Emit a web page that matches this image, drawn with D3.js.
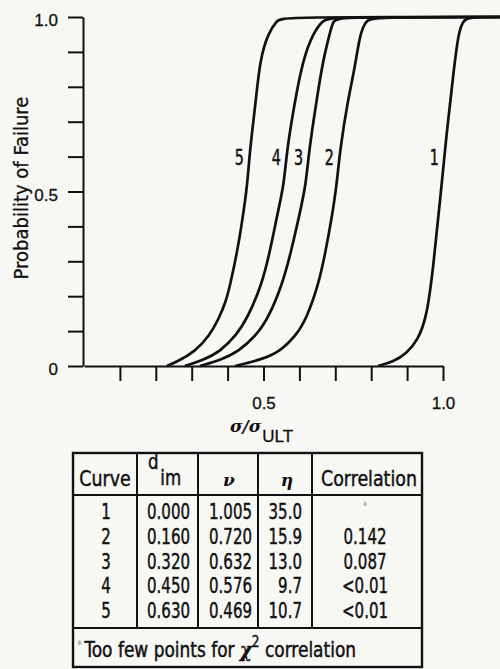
<!DOCTYPE html>
<html>
<head>
<meta charset="utf-8">
<script src="https://d3js.org/d3.v7.min.js"></script>
<style>
  body { margin: 0; background: #f7f7f4; }
  svg { display: block; }
  .axis path, .axis line { stroke: #111; stroke-width: 2; fill: none; }
  .axis text { font-family: "Liberation Sans", Arial, sans-serif; font-size: 17px; fill: #111; stroke: #111; stroke-width: 0.3; }
  .narrow { font-family: "DejaVu Sans Condensed", sans-serif; fill: #111; stroke: #111; stroke-width: 0.45; }
  .grid line, .grid rect { stroke: #111; fill: none; }
</style>
</head>
<body>
<svg id="chart" width="500" height="669"></svg>
<script>
// curves: x = sigma/sigma_ULT, p = probability of failure
var curveNames = ["1", "2", "3", "4", "5"];
var curve1X = [0.819, 0.862, 0.899, 0.930, 0.955, 0.973, 0.992, 1.010, 1.031, 1.043, 1.056, 1.070, 1.159];
var curve1P = [0, 0.012, 0.037, 0.074, 0.141, 0.284, 0.476, 0.668, 0.857, 0.954, 0.989, 1, 1];
var curve2X = [0.421, 0.490, 0.546, 0.592, 0.620, 0.653, 0.673, 0.690, 0.704, 0.713, 0.735, 0.755, 0.769, 0.786, 0.802, 1.159];
var curve2P = [0, 0.017, 0.041, 0.089, 0.137, 0.232, 0.328, 0.424, 0.519, 0.619, 0.762, 0.857, 0.954, 0.989, 1, 1];
var curve3X = [0.323, 0.379, 0.430, 0.481, 0.513, 0.552, 0.577, 0.602, 0.618, 0.627, 0.648, 0.666, 0.685, 0.694, 0.713, 1.159];
var curve3P = [0, 0.017, 0.041, 0.089, 0.137, 0.232, 0.328, 0.442, 0.519, 0.619, 0.762, 0.877, 0.954, 0.991, 1, 1];
var curve4X = [0.281, 0.331, 0.379, 0.425, 0.455, 0.495, 0.518, 0.540, 0.557, 0.565, 0.588, 0.610, 0.638, 0.666, 0.685, 1.159];
var curve4P = [0, 0.017, 0.041, 0.089, 0.137, 0.232, 0.328, 0.442, 0.519, 0.619, 0.762, 0.877, 0.954, 0.991, 1, 1];
var curve5X = [0.231, 0.259, 0.309, 0.351, 0.376, 0.395, 0.407, 0.427, 0.442, 0.455, 0.462, 0.479, 0.490, 0.513, 0.538, 0.552, 1.159];
var curve5P = [0, 0.012, 0.041, 0.089, 0.137, 0.184, 0.232, 0.328, 0.424, 0.519, 0.619, 0.762, 0.877, 0.954, 0.991, 1, 1];

var xTicks = [0.1, 0.2, 0.3, 0.4, 0.5, 0.6, 0.7, 0.8, 0.9, 1.0];
var xLabelVals = [0.5, 1.0];
var xLabelText = ["0.5", "1.0"];
var yTicks = [0, 0.1, 0.2, 0.3, 0.4, 0.5, 0.6, 0.7, 0.8, 0.9, 1.0];
var yLabelVals = [0, 0.5, 1.0];
var yLabelText = ["0", "0.5", "1.0"];

// table under the plot
var tableHead = ["Curve", "d", "\u03BD", "\u03B7", "Correlation"];
var tableCurve = ["1", "2", "3", "4", "5"];
var tableDim = ["0.000", "0.160", "0.320", "0.450", "0.630"];
var tableNu = ["1.005", "0.720", "0.632", "0.576", "0.469"];
var tableEta = ["35.0", "15.9", "13.0", "9.7", "10.7"];
var tableCorr = ["*", "0.142", "0.087", "<0.01", "<0.01"];

var svg = d3.select("#chart");
var x = d3.scaleLinear().domain([0, 1]).range([84, 443]);
var y = d3.scaleLinear().domain([0, 1]).range([366, 17]);

function pick(vals, text) {
    return function (d) {
        var i = vals.findIndex(function (v) { return Math.abs(v - d) < 1e-9; });
        return i < 0 ? "" : text[i];
    };
}

// condensed look: squeeze text horizontally around its anchor
function squeeze(sel, px, py, sx) {
    return sel.attr("transform", "translate(" + px + "," + py + ") scale(" + sx + ",1)");
}

svg.append("g").attr("class", "axis")
    .attr("transform", "translate(83,0)")
    .call(d3.axisLeft(y).tickValues(yTicks).tickSize(15).tickSizeOuter(0).tickPadding(10)
        .tickFormat(pick(yLabelVals, yLabelText)))
    .selectAll("text").attr("dy", "0.5em");

svg.append("g").attr("class", "axis")
    .attr("transform", "translate(0,366)")
    .call(d3.axisBottom(x).tickValues(xTicks).tickSize(15).tickSizeOuter(0).tickPadding(16)
        .tickFormat(pick(xLabelVals, xLabelText)));
svg.selectAll(".axis .domain").attr("stroke-width", 2.2);

// axis titles
svg.append("text")
    .attr("transform", "translate(28,188) rotate(-90)")
    .attr("text-anchor", "middle")
    .style("font-family", "'DejaVu Sans Condensed', sans-serif")
    .style("font-size", "20px").style("fill", "#111")
    .style("stroke", "#111").style("stroke-width", 0.3)
    .text("Probability of Failure");

var xt = svg.append("text").attr("x", 230).attr("y", 432)
    .style("font-family", "'DejaVu Serif', serif").style("font-size", "17px")
    .style("font-style", "italic").style("font-weight", "bold").style("fill", "#111");
xt.append("tspan").text("\u03C3/\u03C3");
xt.append("tspan").attr("dy", 10).attr("dx", 1)
    .style("font-family", "'Liberation Sans', sans-serif").style("font-style", "normal")
    .style("font-weight", "normal").style("font-size", "17px")
    .style("stroke", "#111").style("stroke-width", 0.3).text("ULT");

// curves
var curves = [
    {name: curveNames[0], xs: curve1X, ps: curve1P},
    {name: curveNames[1], xs: curve2X, ps: curve2P},
    {name: curveNames[2], xs: curve3X, ps: curve3P},
    {name: curveNames[3], xs: curve4X, ps: curve4P},
    {name: curveNames[4], xs: curve5X, ps: curve5P}
];
var line = d3.line()
    .x(function (d) { return x(d[0]); })
    .y(function (d) { return y(d[1]); })
    .curve(d3.curveBasis);

svg.selectAll(".curve")
    .data(curves)
    .enter()
    .append("path")
    .attr("class", "curve")
    .attr("d", function (c) { return line(d3.zip(c.xs, c.ps)); })
    .attr("fill", "none")
    .attr("stroke", "#111")
    .attr("stroke-width", 2.7)
    .attr("stroke-linejoin", "round");

// numbers sit just left of each curve around p = 0.6
function crossAt(c, p) {
    for (var i = 1; i < c.ps.length; i++) {
        if (c.ps[i] >= p) {
            var t = (p - c.ps[i - 1]) / (c.ps[i] - c.ps[i - 1]);
            return c.xs[i - 1] + t * (c.xs[i] - c.xs[i - 1]);
        }
    }
    return c.xs[c.xs.length - 1];
}
svg.selectAll(".clabel")
    .data(curves)
    .enter()
    .append("text")
    .attr("class", "clabel narrow")
    .each(function (c) { squeeze(d3.select(this), x(crossAt(c, 0.6)) - 10, 165, 0.76); })
    .attr("text-anchor", "middle")
    .style("font-size", "21px")
    .text(function (c) { return c.name; });

// table
var colEdges = [73, 137, 198, 258, 312, 422];
var tTop = 453, tHead = 495, tFoot = 628, tBottom = 667;
var grid = svg.append("g").attr("class", "grid");
grid.append("rect")
    .attr("x", colEdges[0]).attr("y", tTop)
    .attr("width", colEdges[5] - colEdges[0]).attr("height", tBottom - tTop)
    .attr("stroke-width", 2.4);
grid.selectAll(".hl").data([tHead, tFoot]).enter().append("line")
    .attr("x1", colEdges[0]).attr("x2", colEdges[5])
    .attr("y1", function (d) { return d; }).attr("y2", function (d) { return d; })
    .attr("stroke-width", 2.2);
grid.selectAll(".vl").data(colEdges.slice(1, 5)).enter().append("line")
    .attr("x1", function (d) { return d; }).attr("x2", function (d) { return d; })
    .attr("y1", tTop).attr("y2", tFoot)
    .attr("stroke-width", 2);

var tfont = "22px";
var wordScale = 0.88, numScale = 0.76;
squeeze(svg.append("text").attr("class", "narrow"), 105, 486, wordScale)
    .attr("text-anchor", "middle").style("font-size", tfont).text(tableHead[0]);
var dh = squeeze(svg.append("text").attr("class", "narrow"), 148, 469, wordScale)
    .style("font-size", "21px");
dh.append("tspan").text(tableHead[1]);
dh.append("tspan").attr("dx", 2).attr("dy", 16).text("im");
svg.selectAll(".greek").data([tableHead[2], tableHead[3]]).enter().append("text")
    .attr("x", function (d, i) { return i === 0 ? 229 : 287; })
    .attr("y", 486)
    .attr("text-anchor", "middle")
    .style("font-family", "'DejaVu Serif', serif").style("font-weight", "bold")
    .style("font-style", "italic").style("font-size", "17px").style("fill", "#111")
    .text(function (d) { return d; });
squeeze(svg.append("text").attr("class", "narrow"), 369, 486, wordScale)
    .attr("text-anchor", "middle").style("font-size", tfont).text(tableHead[4]);

var rowY = d3.scalePoint().domain(tableCurve).range([519, 618]);
var cols = [
    {vals: tableCurve, x: 106, anchor: "middle"},
    {vals: tableDim, x: 190, anchor: "end"},
    {vals: tableNu, x: 252, anchor: "end"},
    {vals: tableEta, x: 302, anchor: "end"},
    {vals: tableCorr, x: 365, anchor: "middle"}
];
cols.forEach(function (col) {
    svg.selectAll(null).data(col.vals).enter().append("text")
        .attr("class", "narrow")
        .each(function (d, i) {
            squeeze(d3.select(this), col.x, rowY(tableCurve[i]) - (d === "*" ? 9 : 0), numScale);
        })
        .attr("text-anchor", col.anchor)
        .style("font-size", function (d) { return d === "*" ? "12px" : tfont; })
        .style("fill", function (d) { return d === "*" ? "#999" : "#111"; })
        .style("stroke", function (d) { return d === "*" ? "none" : "#111"; })
        .text(function (d) { return d; });
});

var fn = squeeze(svg.append("text").attr("class", "narrow"), 77, 657, 0.9)
    .style("font-size", "21px");
fn.append("tspan").attr("dy", -8).style("font-size", "12px").style("fill", "#999")
    .style("stroke", "none").text("*");
fn.append("tspan").attr("dy", 8).attr("dx", 3).text("Too few points for ");
fn.append("tspan").style("font-family", "'DejaVu Serif', serif").style("font-weight", "bold")
    .style("font-style", "italic").style("font-size", "20px").text("\u03C7");
fn.append("tspan").attr("dy", -10).style("font-size", "15px").text("2");
fn.append("tspan").attr("dy", 10).text(" correlation");
</script>
</body>
</html>
